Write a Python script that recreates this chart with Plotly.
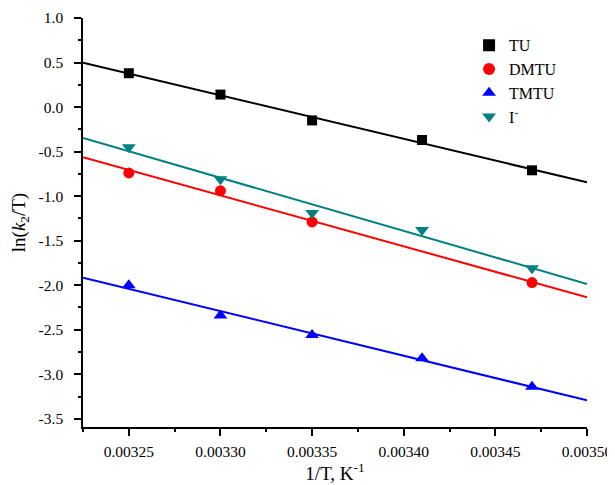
import numpy as np
import plotly.graph_objects as go

# Data
inv_T = [0.00325, 0.00330, 0.00335, 0.00341, 0.00347]
tu = [0.38, 0.14, -0.15, -0.37, -0.71]
dmtu_x = [0.00325, 0.00330, 0.00335, 0.00347]
dmtu = [-0.74, -0.94, -1.29, -1.97]
tmtu = [-2.00, -2.34, -2.56, -2.82, -3.14]
iodide = [-0.45, -0.81, -1.19, -1.38, -1.81]

y_ticks = [1.0, 0.5, 0.0, -0.5, -1.0, -1.5, -2.0, -2.5, -3.0, -3.5]
y_ticktext = ["%.1f" % v for v in y_ticks]
x_ticks = [0.00325, 0.00330, 0.00335, 0.00340, 0.00345, 0.00350]
x_ticktext = ["%.5f" % v for v in x_ticks]

x_range = [0.003225, 0.0035]
y_range = [-3.592, 1.0]

series = [
    ("TU", inv_T, tu, "black", "square", 10),
    ("DMTU", dmtu_x, dmtu, "#ff0000", "circle", 11),
    ("TMTU", inv_T, tmtu, "#0000ff", "triangle-up", 12),
    ("I<sup>-</sup>", inv_T, iodide, "#008080", "triangle-down", 12),
]

fig = go.Figure()
xl = np.array(x_range)
for name, xs, ys, col, sym, sz in series:
    k, b = np.polyfit(xs, ys, 1)
    fig.add_trace(go.Scatter(x=xl, y=k * xl + b, mode="lines",
                             line=dict(color=col, width=2), showlegend=False,
                             hoverinfo="skip"))
for i, (name, xs, ys, col, sym, sz) in enumerate(series):
    fig.add_trace(go.Scatter(x=xs, y=ys, mode="markers", name=name, legendgroup="g%d" % i,
                             marker=dict(color=col, symbol=sym, size=sz, line=dict(width=0))))

font_family = "Liberation Serif, DejaVu Serif, serif"
axis_common = dict(showgrid=False, zeroline=False, showline=True, linecolor="black", linewidth=1.5,
                   ticks="outside", ticklen=7, tickwidth=1.5, tickcolor="black", automargin=False,
                   tickfont=dict(size=15.5))
fig.update_layout(
    width=615, height=485,
    margin=dict(l=75, r=36, t=10, b=66),
    plot_bgcolor="white", paper_bgcolor="white",
    font=dict(family=font_family, size=16, color="black"),
    showlegend=True,
    legend=dict(x=0.766, y=0.975, xanchor="left", yanchor="top",
                bgcolor="rgba(0,0,0,0)", font=dict(size=16), itemsizing="constant",
                tracegroupgap=0),
    xaxis=dict(range=x_range, tickvals=x_ticks, ticktext=x_ticktext,
               minor=dict(ticks="outside", ticklen=3, tickwidth=1.5, tickcolor="black", dtick=0.000025, tick0=0.0035),
               ticklabelstandoff=3,
               title=dict(text="1/T, K<sup>-1</sup>", font=dict(size=19), standoff=1),
               **axis_common),
    yaxis=dict(range=y_range, tickvals=y_ticks, ticktext=y_ticktext,
               minor=dict(ticks="outside", ticklen=3, tickwidth=1.5, tickcolor="black", dtick=0.25, tick0=0),
               ticklabelstandoff=8,
               title=dict(text="ln(<i>k</i><sub>2</sub>/T)", font=dict(size=19), standoff=13),
               **axis_common),
)

fig.write_html("out.html")
